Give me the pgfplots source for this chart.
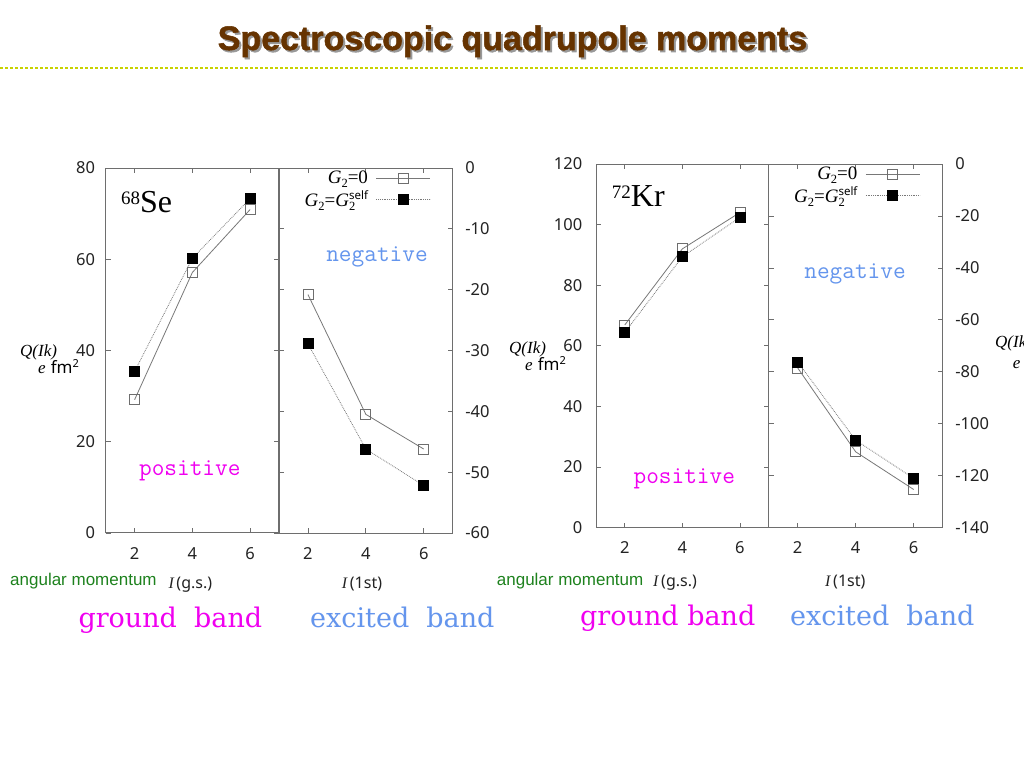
\documentclass[border=0pt]{standalone}
\usepackage{fontspec}
\usepackage{pgfplots}
\pgfplotsset{compat=1.18}
\newfontfamily\sansf{Noto Sans}
\newfontfamily\arialf{Liberation Sans}
\newfontfamily\timesf{Liberation Serif}
\newfontfamily\titlef[FakeBold=1.5]{Liberation Sans}
\newfontfamily\dejaserif{DejaVu Serif}
\definecolor{axisgray}{RGB}{110,110,110}
\definecolor{titlebrown}{RGB}{102,51,0}
\definecolor{dotline}{RGB}{200,210,0}
\definecolor{magentaT}{RGB}{240,0,240}
\definecolor{blueT}{RGB}{100,149,237}
\definecolor{greenT}{RGB}{30,130,30}
\definecolor{linegray}{RGB}{120,120,120}
\definecolor{ticktext}{RGB}{35,35,35}
\newcommand\subtwo{\raisebox{-3.5pt}{\fontsize{12.5}{12.5}\selectfont 2}}
\newcommand\monotxt{\ttfamily\addfontfeatures{FakeBold=0.6}\fontsize{24.6}{24.6}\selectfont}
\pgfplotsset{
  qaxis/.style={
    scale only axis,
    xmin=1, xmax=7, xtick={2,4,6},
    axis line style={axisgray, line width=1pt},
    tick style={axisgray, line width=0.8pt},
    major tick length=5pt,
    tick align=inside,
    tick label style={font=\sansf\fontsize{16.5}{16.5}\selectfont, text=ticktext, inner sep=0pt},
    /pgf/number format/assume math mode=true,
    xticklabel shift=14pt,
    clip=false,
    legend plot pos=right,
    legend cell align=right,
    legend style={draw=none, fill=none, anchor=north east, inner sep=0pt,
      font=\timesf\fontsize{19}{19}\selectfont, row sep=3.5pt,
      nodes={inner sep=1pt}, /tikz/column sep=7pt},
  },
  g0/.style={color=linegray, line width=0.8pt, mark=square, mark size=5pt,
    mark options={solid, draw=axisgray, fill=white, line width=0.8pt}},
  gs/.style={color=linegray, densely dotted, line width=0.8pt, mark=square*, mark size=5pt,
    mark options={solid, fill=black, draw=black}},
  legend image code/.code={\draw[mark repeat=2,mark phase=2,#1] plot coordinates {(0pt,0pt) (27pt,0pt) (54pt,0pt)};},
}
\begin{document}
\begin{tikzpicture}
\useasboundingbox (0,0) rectangle (1024pt,-768pt);
\clip (0,0) rectangle (1024pt,-768pt);
\fill[white] (0,0) rectangle (1024pt,-768pt);
% title
\node[anchor=base, inner sep=0, font=\titlef\bfseries\fontsize{34}{34}\selectfont, text=black!40] at (514.5pt,-52pt) {Spectroscopic quadrupole moments};
\node[anchor=base, inner sep=0, font=\titlef\bfseries\fontsize{34}{34}\selectfont, text=titlebrown] at (512.5pt,-50pt) {Spectroscopic quadrupole moments};
\draw[dotline, line width=2.5pt, dash pattern=on 2.5pt off 2.5pt] (0pt,-68pt) -- (1024pt,-68pt);

% 68Se ground band
\begin{axis}[qaxis, at={(105.7pt,-168pt)}, anchor=north west, width=173.3pt, height=365pt,
  ymin=0, ymax=80, ytick={0,20,...,80}, yticklabel shift=10.5pt]
\addplot[g0] coordinates {(2,29.2) (4,57.1) (6,70.9)};
\addplot[gs] coordinates {(2,35.4) (4,60.2) (6,73.3)};
\end{axis}
% 68Se excited band
\begin{axis}[qaxis, at={(279pt,-168pt)}, anchor=north west, width=173.7pt, height=365pt,
  ymin=-60, ymax=0, ytick={-60,-50,...,0}, yticklabel pos=right, yticklabel shift=12.5pt,
  legend style={at={(rel axis cs:0.875,0.995)}}]
\addplot[g0] coordinates {(2,-20.8) (4,-40.5) (6,-46.2)};
\addlegendentry{{\itshape G}\subtwo=0}
\addplot[gs] coordinates {(2,-28.9) (4,-46.2) (6,-52.2)};
\addlegendentry{{\itshape G}\subtwo={\itshape G}\rlap{\subtwo}\raisebox{7.5pt}{\sansf\fontsize{11.5}{11.5}\selectfont self}}
\end{axis}
% 72Kr ground band
\begin{axis}[qaxis, at={(596pt,-164pt)}, anchor=north west, width=172.7pt, height=363.7pt,
  ymin=0, ymax=120, ytick={0,20,...,120}, yticklabel shift=13.5pt]
\addplot[g0] coordinates {(2,66.9) (4,92.0) (6,104.0)};
\addplot[gs] coordinates {(2,64.4) (4,89.4) (6,102.4)};
\end{axis}
% 72Kr excited band
\begin{axis}[qaxis, at={(768.7pt,-164pt)}, anchor=north west, width=174pt, height=363.7pt,
  ymin=-140, ymax=0, ytick={-140,-120,...,0}, yticklabel pos=right, yticklabel shift=12.5pt,
  legend style={at={(rel axis cs:0.872,0.995)}}]
\addplot[g0] coordinates {(2,-78.5) (4,-110.8) (6,-125.3)};
\addlegendentry{{\itshape G}\subtwo=0}
\addplot[gs] coordinates {(2,-76.2) (4,-106.3) (6,-121.0)};
\addlegendentry{{\itshape G}\subtwo={\itshape G}\rlap{\subtwo}\raisebox{7.5pt}{\sansf\fontsize{11.5}{11.5}\selectfont self}}
\end{axis}

% nucleus labels
\node[anchor=base west, inner sep=0, font=\timesf] at (121pt,-212.7pt) {\raisebox{8.5pt}{\fontsize{19}{19}\selectfont 68}\fontsize{32}{32}\selectfont Se};
\node[anchor=base west, inner sep=0, font=\timesf] at (611.7pt,-206.7pt) {\raisebox{8pt}{\fontsize{19}{19}\selectfont 72}\fontsize{32}{32}\selectfont Kr};
% positive / negative
\node[anchor=base, inner sep=0, font=\monotxt, text=magentaT] at (189.8pt,-475pt) {positive};
\node[anchor=base, inner sep=0, font=\monotxt, text=magentaT] at (684.3pt,-483.3pt) {positive};
\node[anchor=base, inner sep=0, font=\monotxt, text=blueT] at (377pt,-261.7pt) {negative};
\node[anchor=base, inner sep=0, font=\monotxt, text=blueT] at (855pt,-278.3pt) {negative};
% y labels
\node[anchor=base west, inner sep=0, font=\timesf\itshape\fontsize{17}{17}\selectfont] at (20pt,-356pt) {Q(Ik)};
\node[anchor=base west, inner sep=0, font=\fontsize{17}{17}\selectfont] at (38pt,-373.3pt) {{\timesf\itshape e} {\sansf fm\raisebox{6pt}{\fontsize{11}{11}\selectfont 2}}};
\node[anchor=base west, inner sep=0, font=\timesf\itshape\fontsize{17}{17}\selectfont] at (509pt,-353.3pt) {Q(Ik)};
\node[anchor=base west, inner sep=0, font=\fontsize{17}{17}\selectfont] at (525pt,-370.7pt) {{\timesf\itshape e} {\sansf fm\raisebox{6pt}{\fontsize{11}{11}\selectfont 2}}};
\node[anchor=base west, inner sep=0, font=\timesf\itshape\fontsize{17}{17}\selectfont] at (995pt,-347pt) {Q(Ik)};
\node[anchor=base west, inner sep=0, font=\fontsize{17}{17}\selectfont] at (1012.7pt,-368pt) {{\timesf\itshape e} {\sansf fm\raisebox{6pt}{\fontsize{11}{11}\selectfont 2}}};
% x labels
\node[anchor=base west, inner sep=0, font=\arialf\fontsize{17}{17}\selectfont, text=greenT] at (10pt,-585pt) {angular momentum};
\node[anchor=base west, inner sep=0, font=\arialf\fontsize{17}{17}\selectfont, text=greenT] at (496.7pt,-585pt) {angular momentum};
\node[anchor=base west, inner sep=0, font=\fontsize{16}{16}\selectfont, text=ticktext] at (168.3pt,-588pt) {{\timesf\itshape I}\,{\sansf(g.s.)}};
\node[anchor=base west, inner sep=0, font=\fontsize{16}{16}\selectfont, text=ticktext] at (341.7pt,-588pt) {{\timesf\itshape I}\,{\sansf(1st)}};
\node[anchor=base west, inner sep=0, font=\fontsize{16}{16}\selectfont, text=ticktext] at (653pt,-586pt) {{\timesf\itshape I}\,{\sansf(g.s.)}};
\node[anchor=base west, inner sep=0, font=\fontsize{16}{16}\selectfont, text=ticktext] at (825pt,-586pt) {{\timesf\itshape I}\,{\sansf(1st)}};
% band labels
\node[anchor=base west, inner sep=0, font=\dejaserif\fontsize{27}{27}\selectfont, text=magentaT] at (78.3pt,-627pt) {ground\ \ band};
\node[anchor=base west, inner sep=0, font=\dejaserif\fontsize{27}{27}\selectfont, text=blueT] at (310pt,-627pt) {excited\ \ band};
\node[anchor=base west, inner sep=0, font=\dejaserif\fontsize{27}{27}\selectfont, text=magentaT] at (580pt,-625.5pt) {ground band};
\node[anchor=base west, inner sep=0, font=\dejaserif\fontsize{27}{27}\selectfont, text=blueT] at (790pt,-625.5pt) {excited\ \ band};
\end{tikzpicture}
\end{document}
